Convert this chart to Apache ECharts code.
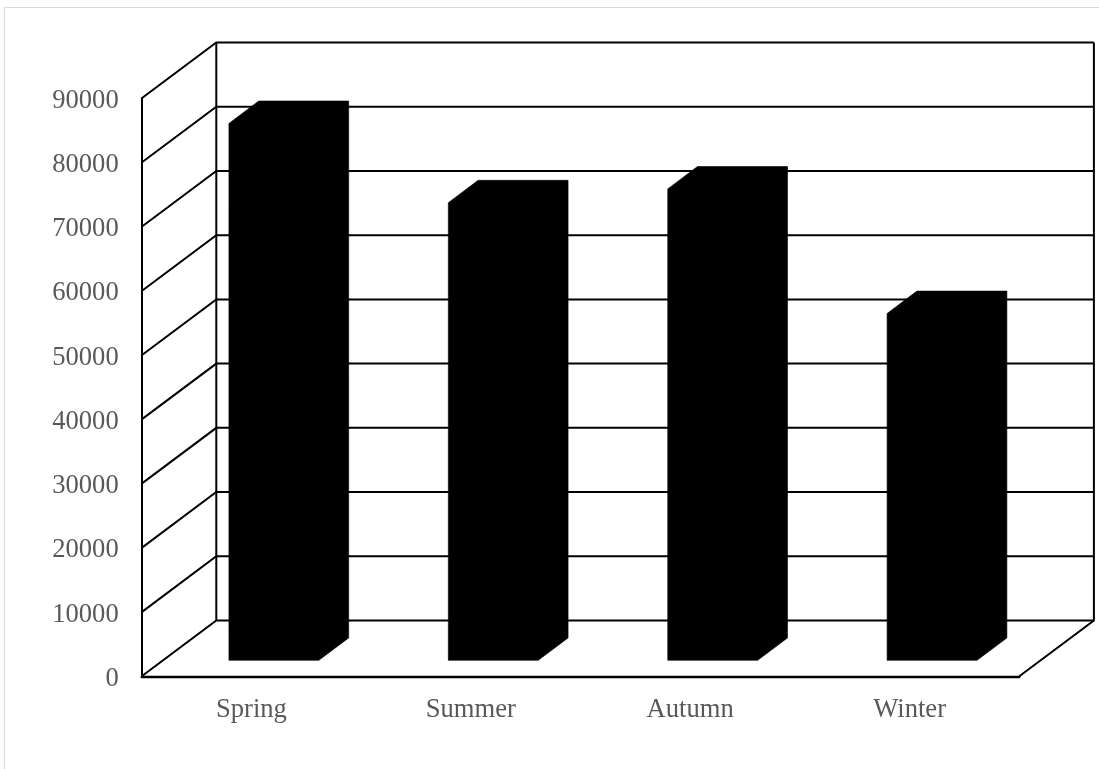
<!DOCTYPE html>
<html>
<head>
<meta charset="utf-8">
<style>html,body{margin:0;padding:0;background:#fff}#c{width:1099px;height:769px}</style>
<script src="https://cdn.jsdelivr.net/npm/echarts@6/dist/echarts.min.js"></script>
</head>
<body>
<div id="c"></div>
<script>
const categories = ['Spring', 'Summer', 'Autumn', 'Winter'];
const values = [83600, 71250, 73400, 54000];
const yTicks = [0, 10000, 20000, 30000, 40000, 50000, 60000, 70000, 80000, 90000];

const WALL_DX = 74.6, WALL_DY = 55.8;
const FRONT_DX = 22.5, FRONT_DY = 16;
const BAR_DX = 29.8, BAR_DY = 22.4;
const BAR_RATIO = 0.41;
const LINE = { stroke: '#000', lineWidth: 2, fill: null };
const FONT = 'Liberation Serif';

function wallLines(params, api) {
  const cs = params.coordSys;
  const y = api.coord([0, api.value(1)])[1];
  return {
    type: 'polyline',
    shape: { points: [[cs.x, y], [cs.x + WALL_DX, y - WALL_DY], [cs.x + cs.width + WALL_DX, y - WALL_DY]] },
    style: LINE, silent: true
  };
}
function frame(params, api) {
  const cs = params.coordSys;
  const bx = cs.x + WALL_DX, top = cs.y - WALL_DY, floor = cs.y + cs.height - WALL_DY;
  const xr = bx + cs.width;
  return {
    type: 'group', silent: true,
    children: [
      { type: 'polyline', shape: { points: [[bx, floor], [bx, top]] }, style: LINE },
      { type: 'polyline', shape: { points: [[xr, top], [xr, floor], [cs.x + cs.width, cs.y + cs.height]] }, style: LINE }
    ]
  };
}
function bar3d(params, api) {
  const base = api.coord([api.value(0), 0]);
  const tip = api.coord([api.value(0), api.value(1)]);
  const w = api.size([1, 0])[0] * BAR_RATIO;
  const l = base[0] + FRONT_DX - w / 2, r = l + w;
  const b = base[1] - FRONT_DY, t = tip[1] - FRONT_DY;
  return {
    type: 'polygon',
    shape: { points: [[l, b], [r, b], [r + BAR_DX, b - BAR_DY], [r + BAR_DX, t - BAR_DY], [l + BAR_DX, t - BAR_DY], [l, t]] },
    style: { fill: '#000', stroke: '#000', lineWidth: 0.6 }
  };
}

const chart = echarts.init(document.getElementById('c'), null, { renderer: 'canvas' });
chart.setOption({
  animation: false,
  backgroundColor: '#fff',
  graphic: [{
    type: 'rect', silent: true, z: -1,
    shape: { x: 4.5, y: 7.5, width: 1300, height: 1000 },
    style: { fill: '#fff', stroke: '#d9d9d9', lineWidth: 1.2 }
  }],
  grid: { left: 141.7, right: 79.7, top: 98.3, bottom: 92.7, containLabel: false },
  xAxis: {
    type: 'category', data: categories, boundaryGap: true,
    axisLine: { show: true, lineStyle: { color: '#000', width: 2.4 } },
    axisTick: { show: false }, splitLine: { show: false },
    axisLabel: { color: '#595959', fontFamily: FONT, fontSize: 26.6, margin: 20 }
  },
  yAxis: {
    type: 'value', min: 0, max: 90000, interval: 10000,
    axisLine: { show: true, lineStyle: { color: '#000', width: 2 } },
    axisTick: { show: false }, splitLine: { show: false },
    axisLabel: { color: '#595959', fontFamily: FONT, fontSize: 26.6, margin: 23,
      verticalAlign: 'top', lineHeight: 5, formatter: v => String(v) }
  },
  series: [
    { type: 'custom', renderItem: wallLines, clip: false, z: 1, silent: true,
      encode: { x: 0, y: 1 }, data: yTicks.map(v => [0, v]) },
    { type: 'custom', renderItem: frame, clip: false, z: 1, silent: true,
      encode: { x: 0, y: 1 }, data: [[0, 0]] },
    { type: 'custom', renderItem: bar3d, clip: false, z: 3,
      encode: { x: 0, y: 1 }, data: values.map((v, i) => [i, v]) }
  ]
});
</script>
</body>
</html>
